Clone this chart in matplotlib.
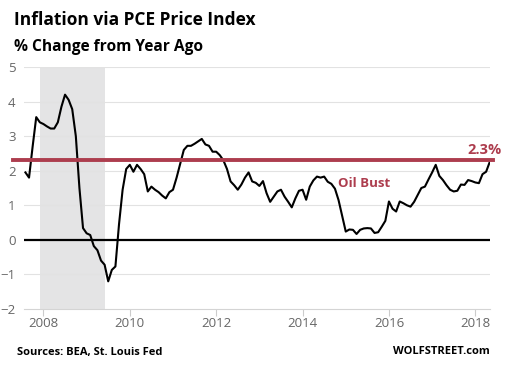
import numpy as np
import matplotlib.pyplot as plt

plt.rcParams['font.family'] = ['Open Sans', 'DejaVu Sans']

# monthly PCE % change from year ago, Aug 2007 .. May 2018
start_year, start_month = 2007, 8
pce = [
    # 2007 Aug-Dec
    1.95, 1.8, 2.7, 3.55, 3.4,
    # 2008
    3.35, 3.28, 3.22, 3.22, 3.4, 3.85, 4.2, 4.05, 3.78, 3.0, 1.5, 0.34,
    # 2009
    0.19, 0.14, -0.18, -0.3, -0.6, -0.72, -1.2, -0.87, -0.77, 0.45, 1.45, 2.05,
    # 2010
    2.17, 1.97, 2.17, 2.05, 1.9, 1.4, 1.54, 1.45, 1.38, 1.28, 1.2, 1.38,
    # 2011
    1.45, 1.8, 2.2, 2.6, 2.72, 2.72, 2.78, 2.85, 2.92, 2.76, 2.72, 2.55,
    # 2012
    2.55, 2.45, 2.3, 2.05, 1.69, 1.58, 1.45, 1.6, 1.8, 1.95, 1.69, 1.65,
    # 2013
    1.56, 1.7, 1.35, 1.1, 1.25, 1.4, 1.45, 1.25, 1.1, 0.94, 1.2, 1.42,
    # 2014
    1.45, 1.16, 1.54, 1.72, 1.83, 1.8, 1.83, 1.68, 1.62, 1.48, 1.15, 0.7,
    # 2015
    0.24, 0.3, 0.29, 0.17, 0.29, 0.33, 0.34, 0.33, 0.2, 0.22, 0.38, 0.55,
    # 2016
    1.11, 0.9, 0.82, 1.11, 1.06, 1.0, 0.96, 1.1, 1.3, 1.5, 1.54, 1.75,
    # 2017
    1.95, 2.17, 1.85, 1.73, 1.58, 1.45, 1.4, 1.42, 1.6, 1.59, 1.73, 1.7,
    # 2018 Jan-May
    1.66, 1.64, 1.9, 1.97, 2.25,
]
dates = [start_year + (start_month - 1 + i) / 12 for i in range(len(pce))]

recession = (2007.92, 2009.42)
target = 2.3
year_ticks = [2008, 2010, 2012, 2014, 2016, 2018]
y_ticks = [-2, -1, 0, 1, 2, 3, 4, 5]

red = '#ad3d4e'
gray = '#666666'

fig = plt.figure(figsize=(5.05, 3.68), dpi=100)
ax = fig.add_axes([24 / 505, 59 / 368, 466 / 505, 242 / 368])

# recession shading
ax.axvspan(recession[0], recession[1], color='#e4e4e5', lw=0, zorder=0)

# grid lines
for y in y_ticks[1:]:
    if y != 0:
        ax.axhline(y, color='#e2e2e2', lw=0.8, zorder=1)

ax.axhline(0, color='black', lw=1.6, zorder=2)
ax.plot(dates, pce, color='black', lw=1.5, zorder=3)
ax.axhline(target, xmin=-0.024, xmax=1.007, color=red, lw=2.8,
           clip_on=False, zorder=4)

ax.text(2018.6, 2.4, '2.3%', color=red, fontsize=10.5,
        fontweight='bold', ha='right', va='bottom')
ax.text(2015.43, 1.62, 'Oil Bust', color=red, fontsize=9.5,
        fontweight='bold', ha='center', va='center')

ax.set_xlim(2007.55, 2018.34)
ax.set_ylim(-2, 5)
ax.set_xticks(year_ticks)
ax.set_yticks(y_ticks)
ax.tick_params(axis='x', length=5, color='#cccccc', labelcolor=gray,
               labelsize=9.5, pad=1)
ax.tick_params(axis='y', length=0, labelcolor=gray, labelsize=9.5, pad=6)
for s in ['top', 'right', 'left']:
    ax.spines[s].set_visible(False)
ax.spines['bottom'].set_color('#d4d4d4')
ax.spines['bottom'].set_linewidth(0.8)

fig.text(14 / 505, 1 - 20 / 368, 'Inflation via PCE Price Index',
         fontsize=12.5, fontweight='bold', va='center', ha='left')
fig.text(14 / 505, 1 - 47 / 368, '% Change from Year Ago',
         fontsize=11.2, fontweight='bold', va='center', ha='left')
fig.text(17 / 505, 1 - 352 / 368, 'Sources: BEA, St. Louis Fed',
         fontsize=8, fontweight='bold', va='center', ha='left')
fig.text(490 / 505, 1 - 352 / 368, 'WOLFSTREET.com',
         fontsize=8, fontweight='bold', va='center', ha='right')

fig.savefig('out.png', dpi=100)
